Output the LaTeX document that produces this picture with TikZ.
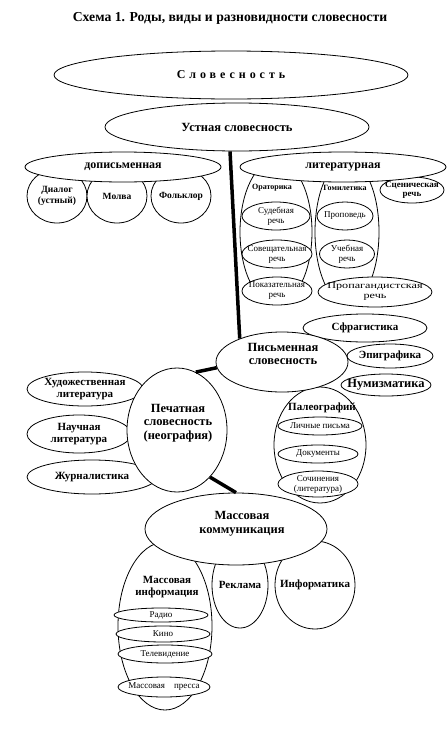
\documentclass[tikz,border=0pt]{standalone}
\usepackage{fontspec}
\setmainfont{Liberation Serif}
\usetikzlibrary{shapes.geometric}

\begin{document}
\begin{tikzpicture}[
        x=1pt, y=-1pt,
        oval/.style={
            ellipse,
            draw=black,
            line width=0.8pt,
            fill=white,
            inner xsep=-20pt,
            inner ysep=-6pt,
            align=center
        },
        wh/.style 2 args={minimum width=#1pt, minimum height=#2pt},
        big/.style={font=\fontsize{12.5}{13.5}\selectfont\bfseries, align=center},
        mid/.style={font=\fontsize{12}{13}\selectfont\bfseries, align=center},
        med/.style={font=\fontsize{11}{12.5}\selectfont\bfseries, align=center},
        sml/.style={font=\fontsize{9.5}{10.5}\selectfont\bfseries, align=center},
        lbl/.style={font=\fontsize{8}{9}\selectfont\bfseries, align=center},
        txs/.style={font=\fontsize{9}{10}\selectfont, align=center},
        link/.style={line width=3.5pt, draw=black}
    ]
    \useasboundingbox (0, 0) rectangle (447, 731);

    \node[font=\fontsize{13.7}{15}\selectfont\bfseries] (title) at (230, 18) {Схема 1. Роды, виды и разновидности словесности};

    \node[oval, wh={354}{48}, font=\fontsize{12}{13}\selectfont\bfseries] (slov) at (231, 75) {\addfontfeature{LetterSpace=33}Словесность};

    % дописьменная
    \node[oval, wh={60}{54}, sml] (dialog) at (57, 196) {Диалог\\(устный)};
    \node[oval, wh={60}{54}, sml] (molva)  at (117, 196) {Молва};
    \node[oval, wh={60}{54}, sml] (folk)   at (181, 196) {Фольклор};
    \node[oval, wh={196}{30}, mid] (dopis) at (123, 167) {дописьменная};

    % литературная
    \node[oval, wh={72}{144}] (orat)  at (276, 232) {};
    \node[oval, wh={64}{144}] (gomil) at (347, 232) {};
    \node[oval, wh={64}{26}, font=\fontsize{9}{9.5}\selectfont\bfseries] (scen) at (412, 190) {Сценическая\\речь};
    \node[oval, wh={206}{30}, mid] (lit) at (343, 167) {литературная};
    \node[lbl] (oratT)  at (272, 188) {Ораторика};
    \node[lbl] (gomilT) at (345, 188) {Гомилетика};
    \node[oval, wh={68}{28}, txs]  (sud)    at (276, 216) {Судебная\\речь};
    \node[oval, wh={70}{28}, txs]  (sov)    at (277, 254) {Совещательная\\речь};
    \node[oval, wh={70}{28}, txs]  (pok)    at (277, 291) {Показательная\\речь};
    \node[oval, wh={56}{28}, txs]  (prop)   at (345, 216) {Проповедь};
    \node[oval, wh={55}{28}, txs]  (ucheb)  at (347, 254) {Учебная\\речь};
    \node[oval, wh={114}{30}, txs] (propag) at (375, 292) {\addfontfeature{FakeStretch=1.35}Пропагандистская\\\addfontfeature{FakeStretch=1.35}речь};

    \node[oval, wh={264}{48}, font=\fontsize{12.5}{13.5}\selectfont\bfseries] (ustn) at (237, 127) {Устная словесность};

    % письменная
    \node[oval, wh={124}{28}, med] (sfrag) at (365, 328) {Сфрагистика};
    \node[oval, wh={86}{24}, med]  (epigr) at (390, 356) {Эпиграфика};
    \node[oval, wh={90}{22}, big]  (numiz) at (386, 385) {Нумизматика};
    \node[oval, wh={92}{116}]      (paleo) at (320, 445) {};
    \node[oval, wh={132}{60}]      (pism)  at (282, 362) {};
    \node[big] (pismT)  at (283, 354) {Письменная\\словесность};
    \node[med] (paleoT) at (322, 408) {Палеографий};
    \node[oval, wh={84}{18}, txs] (lichn)  at (320, 426) {Личные письма};
    \node[oval, wh={80}{18}, txs] (dokum)  at (318, 454) {Документы};
    \node[oval, wh={80}{26}, txs] (sochin) at (318, 484) {Сочинения\\(литература)};

    % печатная
    \node[oval, wh={116}{34}, med] (khud)  at (85, 389) {Художественная\\литература};
    \node[oval, wh={104}{38}, med] (nauch) at (79, 434) {Научная\\литература};
    \node[oval, wh={130}{34}, med] (zhurn) at (92, 477) {Журналистика};
    \node[oval, wh={100}{124}]     (pech)  at (177, 430) {};
    \node[big] (pechT) at (178, 423) {Печатная\\словесность\\(неография)};

    % массовая
    \node[oval, wh={94}{168}]     (minf)  at (165, 626) {};
    \node[oval, wh={56}{86}, med] (rekl)  at (240, 585) {Реклама};
    \node[oval, wh={80}{88}, med] (infor) at (315, 585) {Информатика};
    \node[oval, wh={182}{72}]     (massk) at (236, 529) {};
    \node[big] (masskT) at (242, 524) {Массовая\\коммуникация};
    \node[med] (minfT)  at (167, 587) {Массовая\\информация};
    \node[oval, wh={94}{14}, txs] (radio)  at (161, 615) {Радио};
    \node[oval, wh={94}{16}, txs] (kino)   at (163, 634) {Кино};
    \node[oval, wh={94}{18}, txs] (telev)  at (165, 654) {Телевидение};
    \node[oval, wh={92}{20}, txs] (pressa) at (164, 687) {Массовая\quad пресса};

    \draw[link] (ustn.254) -- (pism.151);
    \draw[link] (pech.72) -- (pism.185);
    \draw[link] (pech.305) -- (massk.north);

\end{tikzpicture}
\end{document}
